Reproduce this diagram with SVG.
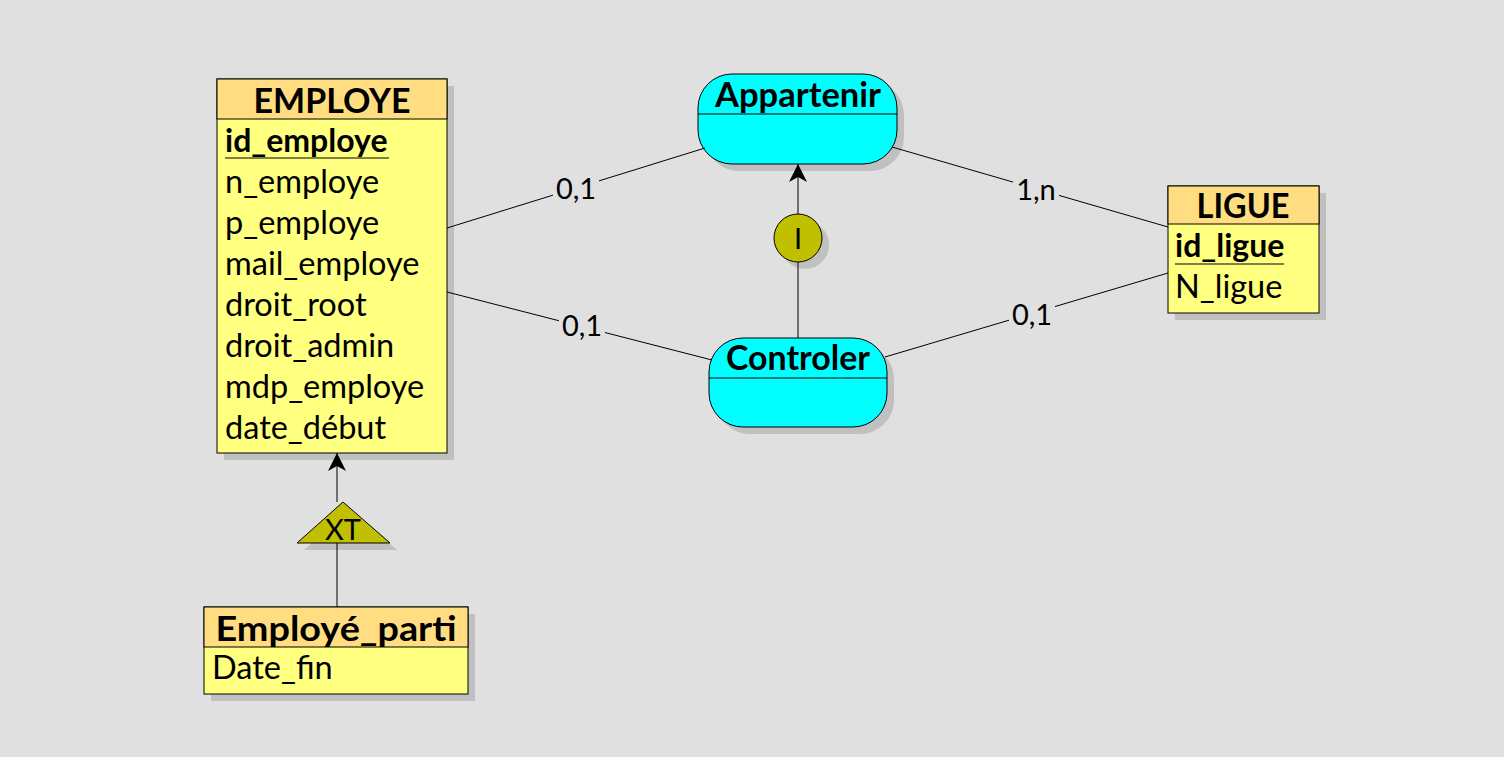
<svg xmlns="http://www.w3.org/2000/svg" width="1504" height="757" viewBox="0 0 1504 757">
<defs>
<style>
.bg{fill:#e0e0e0}
.sh{fill:#c0c0c0}
.hd{fill:#ffdd80;stroke:#000;stroke-width:1}
.bd{fill:#ffff80;stroke:#000;stroke-width:1}
.as{fill:#00ffff;stroke:#000;stroke-width:1}
.ol{fill:#c0c000;stroke:#000;stroke-width:1}
.ln{stroke:#000;stroke-width:1;fill:none}
.t{font-family:Lato,"Open Sans",sans-serif;fill:#000}
.title{font-weight:bold;font-size:35px}
.attr{font-size:32.5px}
.key{font-weight:bold;font-size:32px}
.lab{font-size:29px}
.lbg{fill:#e0e0e0}
</style>
<marker id="arr" viewBox="0 0 18 18" refX="18" refY="9" markerWidth="18" markerHeight="18" markerUnits="userSpaceOnUse" orient="auto">
<path d="M0,0 L18,9 L0,18 L5,9 Z" fill="#000"/>
</marker>
</defs>
<rect class="bg" x="0" y="0" width="1504" height="757"/>

<g id="EMPLOYE">
<rect class="sh" x="224" y="86" width="230" height="374"/>
<rect class="bd" x="217" y="79" width="230" height="374"/>
<rect class="hd" x="217" y="79" width="230" height="40"/>
<text class="t title" x="332" y="113" text-anchor="middle" textLength="157" lengthAdjust="spacingAndGlyphs">EMPLOYE</text>
<text class="t key" x="225" y="152">id_employe</text>
<line class="ln" x1="225" y1="158" x2="389" y2="158"/>
<text class="t attr" x="225" y="193">n_employe</text>
<text class="t attr" x="225" y="234">p_employe</text>
<text class="t attr" x="225" y="275">mail_employe</text>
<text class="t attr" x="225" y="316">droit_root</text>
<text class="t attr" x="225" y="357">droit_admin</text>
<text class="t attr" x="225" y="398">mdp_employe</text>
<text class="t attr" x="225" y="439">date_début</text>
</g>

<g id="LIGUE">
<rect class="sh" x="1175" y="193" width="151" height="127"/>
<rect class="bd" x="1168" y="186" width="151" height="127"/>
<rect class="hd" x="1168" y="186" width="151" height="38"/>
<text class="t title" x="1243" y="218" text-anchor="middle" textLength="93" lengthAdjust="spacingAndGlyphs">LIGUE</text>
<text class="t key" x="1175" y="257">id_ligue</text>
<line class="ln" x1="1175" y1="264" x2="1284" y2="264"/>
<text class="t attr" x="1175" y="298">N_ligue</text>
</g>

<g id="Employe_parti">
<rect class="sh" x="211" y="614" width="264" height="87"/>
<rect class="bd" x="204" y="607" width="264" height="87"/>
<rect class="hd" x="204" y="607" width="264" height="40"/>
<text class="t title" x="336" y="641" text-anchor="middle" textLength="241" lengthAdjust="spacingAndGlyphs">Employé_parti</text>
<text class="t attr" x="212" y="679">Date_fin</text>
</g>

<g id="Appartenir">
<rect class="sh" x="705" y="81" width="199" height="90" rx="34" ry="34"/>
<rect class="as" x="698" y="74" width="199" height="90" rx="34" ry="34"/>
<line class="ln" x1="698" y1="114" x2="897" y2="114"/>
<text class="t title" x="798" y="107" text-anchor="middle" textLength="166" lengthAdjust="spacingAndGlyphs">Appartenir</text>
</g>

<g id="Controler">
<rect class="sh" x="716" y="345" width="178" height="89" rx="34" ry="34"/>
<rect class="as" x="709" y="338" width="178" height="89" rx="34" ry="34"/>
<line class="ln" x1="709" y1="378" x2="887" y2="378"/>
<text class="t title" x="798" y="370" text-anchor="middle" textLength="144" lengthAdjust="spacingAndGlyphs">Controler</text>
</g>

<g id="contrainte_I">
<circle class="sh" cx="805" cy="245" r="24"/>
<circle class="ol" cx="798" cy="238" r="24"/>
<text class="t lab" x="798" y="249" text-anchor="middle">I</text>
</g>

<g id="heritage_XT">
<polygon class="sh" points="350,509 397,550 304,550"/>
<polygon class="ol" points="343,502 390,543 297,543"/>
<text class="t lab" x="343" y="540" text-anchor="middle">XT</text>
</g>

<g id="connectors">
<line class="ln" x1="447" y1="228" x2="705" y2="148"/>
<line class="ln" x1="447" y1="292" x2="712" y2="360"/>
<line class="ln" x1="892" y1="147" x2="1168" y2="227"/>
<line class="ln" x1="885" y1="357" x2="1168" y2="273"/>
<line class="ln" x1="798" y1="338" x2="798" y2="262"/>
<line class="ln" x1="798" y1="214" x2="798" y2="164" marker-end="url(#arr)"/>
<line class="ln" x1="337" y1="607" x2="337" y2="543"/>
<line class="ln" x1="337" y1="502" x2="337" y2="453" marker-end="url(#arr)"/>
<rect class="lbg" x="553" y="174" width="46" height="30"/>
<text class="t lab" x="576" y="199" text-anchor="middle">0,1</text>
<rect class="lbg" x="559" y="310" width="46" height="30"/>
<text class="t lab" x="582" y="336" text-anchor="middle">0,1</text>
<rect class="lbg" x="1013" y="175" width="46" height="30"/>
<text class="t lab" x="1036" y="200" text-anchor="middle">1,n</text>
<rect class="lbg" x="1009" y="300" width="46" height="30"/>
<text class="t lab" x="1032" y="325" text-anchor="middle">0,1</text>
</g>
</svg>
